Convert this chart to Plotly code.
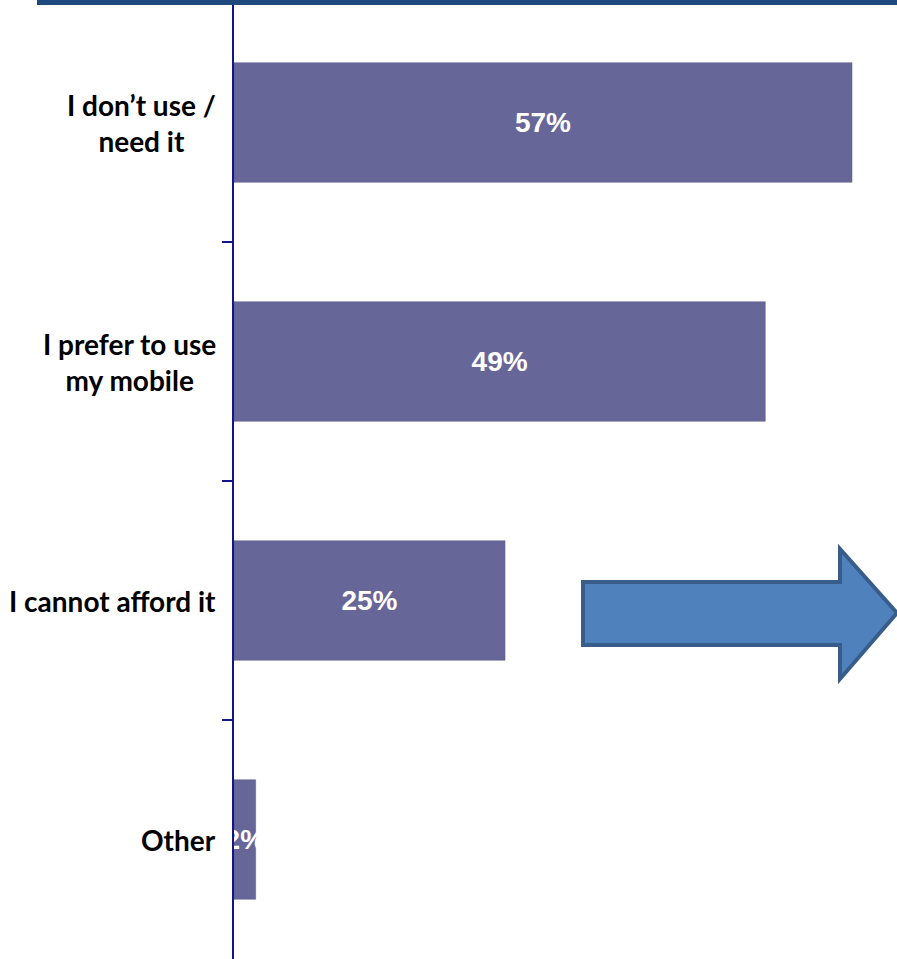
import plotly.graph_objects as go

categories = ["I don\u2019t use /<br>need it", "I prefer to use<br>my mobile", "I cannot afford it", "Other"]
values = [57, 49, 25, 2]
value_labels = ["57%", "49%", "25%", "2%"]

W, H = 897, 959
ML, MR, MT, MB = 234, 0, 3, 0
PW, PH = W - ML - MR, H - MT - MB


def px(x):
    return (x - ML) / PW


def py(y):
    return 1 - (y - MT) / PH


fig = go.Figure()
fig.add_trace(go.Bar(
    y=categories, x=values, orientation="h",
    marker=dict(color="#676699", line=dict(color="#5a5a8c", width=0.5)),
    text=value_labels, textposition="inside", insidetextanchor="middle",
    constraintext="none", cliponaxis=False, textangle=0,
    textfont=dict(family="Liberation Sans, Arial", size=28, color="white", weight="bold"),
    hoverinfo="skip",
))

for c in categories:
    fig.add_annotation(
        x=0, xref="paper", y=c, yref="y", xanchor="right", yanchor="middle",
        xshift=-16, align="center", showarrow=False, text=c,
        font=dict(family="Lato", size=28, color="#000000", weight="bold"),
    )

# top decorative band
fig.add_shape(type="rect", xref="paper", yref="paper",
              x0=px(37), x1=px(897), y0=py(5), y1=py(0),
              fillcolor="#1f497d", line=dict(width=0), layer="above")

# arrow
pts = [(583, 582), (840, 582), (840, 549), (897, 613), (840, 679), (840, 645), (583, 645)]
path = "M " + " L ".join(f"{px(x):.5f},{py(y):.5f}" for x, y in pts) + " Z"
fig.add_shape(type="path", xref="paper", yref="paper", path=path,
              fillcolor="#4f81bd", line=dict(color="#385d8a", width=4), layer="above")

fig.update_layout(
    width=W, height=H,
    margin=dict(l=ML, r=MR, t=MT, b=MB),
    paper_bgcolor="white", plot_bgcolor="white",
    bargap=0.5, showlegend=False,
    xaxis=dict(range=[0, 61.15], visible=False, showgrid=False, zeroline=False, fixedrange=True),
    yaxis=dict(
        categoryorder="array", categoryarray=categories, autorange="reversed",
        showticklabels=False, ticks="outside", tickson="boundaries",
        ticklen=10, tickwidth=2, tickcolor="#14148f",
        showline=True, linecolor="#14148f", linewidth=2.5,
        showgrid=False, zeroline=False, fixedrange=True,
    ),
)

fig.write_html(
    "out.html",
    config={"displayModeBar": False, "staticPlot": True},
    post_script="document.body.style.margin='0';document.body.style.overflow='hidden';",
)
